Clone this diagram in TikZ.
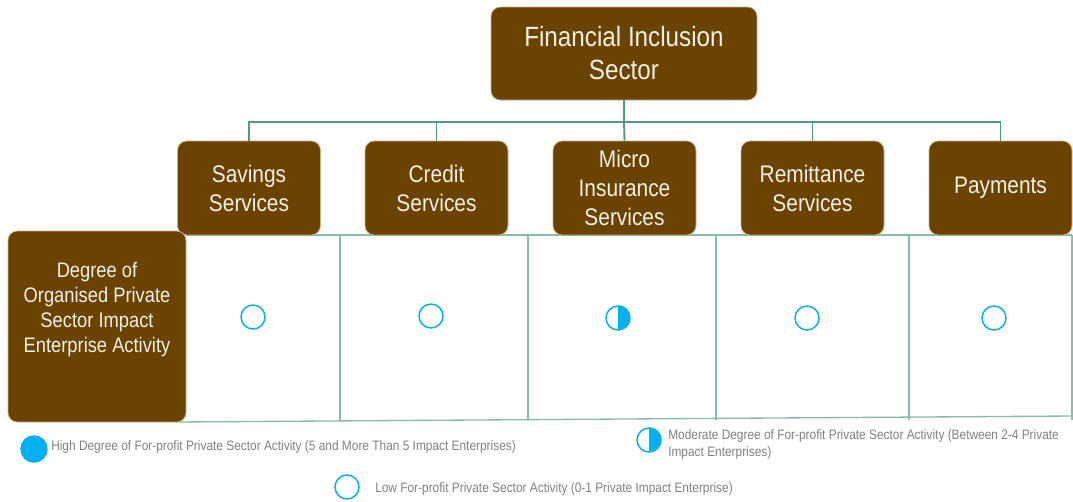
\documentclass[tikz,border=0pt]{standalone}
\usepackage{fontspec}
\setmainfont[FakeStretch=0.87]{Liberation Sans}
\usetikzlibrary{positioning}
\definecolor{bark}{HTML}{6B4300}
\definecolor{barkedge}{HTML}{C9AE86}
\definecolor{chalk}{HTML}{F4F0E8}
\definecolor{branch}{HTML}{4F9A84}
\definecolor{gridline}{HTML}{86BCA8}
\definecolor{sky}{HTML}{00B0F0}
\definecolor{note}{HTML}{808080}

\begin{document}
\begin{tikzpicture}[
    x=0.75pt, y=-0.75pt,
    tile/.style={draw=barkedge, line width=0.6pt, fill=bark, rounded corners=7pt,
                 text=chalk, align=center, inner sep=2pt},
    service/.style={tile, minimum width=107.25pt, minimum height=70.5pt,
                    font=\fontsize{18}{21.75}\selectfont},
    link/.style={draw=branch, line width=1.4pt},
    cell/.style={draw=gridline, line width=1pt},
    ring/.style={circle, draw=sky, line width=1.1pt, minimum size=18pt, inner sep=0pt},
    legend/.style={anchor=west, text=note, font=\fontsize{10.25}{12.75}\selectfont,
                   align=left, inner sep=0pt}
  ]
  \useasboundingbox (0,0) rectangle (1073,501);

  % matrix of cells
  \draw[cell] (186,235) -- (1072,235);
  \draw[cell] (176,422) -- (1072,416);
  \foreach \gx in {340,528,716,909,1072}
    \draw[cell] (\gx,235) -- (\gx,420);

  \node[tile, minimum width=199.5pt, minimum height=69.75pt,
        font=\fontsize{20.9}{24.75}\selectfont] (sector) at (624,53.5)
    {Financial Inclusion\\Sector};

  \node[service] (savings)    at (249,188) {Savings\\Services};
  \node[service] (credit)     at (436.5,188) {Credit\\Services};
  \node[service] (insurance)  at (624.5,188) {Micro\\Insurance\\Services};
  \node[service] (remittance) at (812.5,188) {Remittance\\Services};
  \node[service] (payments)   at (1000.5,188) {Payments};

  \coordinate (bus) at (624,122);
  \draw[link] (sector.south) -- (bus);
  \draw[link] (savings.north) |- (bus);
  \draw[link] (credit.north) |- (bus);
  \draw[link] (insurance.north) -- (bus);
  \draw[link] (remittance.north) |- (bus);
  \draw[link] (payments.north) |- (bus);

  \node[tile, minimum width=133.5pt, minimum height=143.25pt] (degree) at (97,326.5) {};
  \node[text=chalk, align=center, font=\fontsize{15.8}{18.75}\selectfont]
    (degreetext) at (97,310)
    {Degree of\\Organised Private\\Sector Impact\\Enterprise Activity};

  % activity marks
  \node[ring] (savmark) at (253,317) {};
  \node[ring] (credmark) at (431,316) {};
  \node[ring] (insmark) at (618,318) {};
  \fill[sky] (insmark.north) arc (90:-90:9pt) -- cycle;
  \node[ring] (remmark) at (807,318) {};
  \node[ring] (paymark) at (994,318) {};

  % legend
  \node[ring, fill=sky, minimum size=19.5pt] (highkey) at (34,449) {};
  \node[legend] (hightext) at (51,447)
    {High Degree of For-profit Private Sector Activity (5 and More Than 5 Impact Enterprises)};
  \node[ring] (modkey) at (649,440) {};
  \fill[sky] (modkey.north) arc (90:-90:9pt) -- cycle;
  \node[legend] (modtext) at (668,444.5)
    {Moderate Degree of For-profit Private Sector Activity (Between 2-4 Private\\Impact Enterprises)};
  \node[ring] (lowkey) at (347,487) {};
  \node[legend] (lowtext) at (375,489)
    {Low For-profit Private Sector Activity (0-1 Private Impact Enterprise)};
\end{tikzpicture}
\end{document}
